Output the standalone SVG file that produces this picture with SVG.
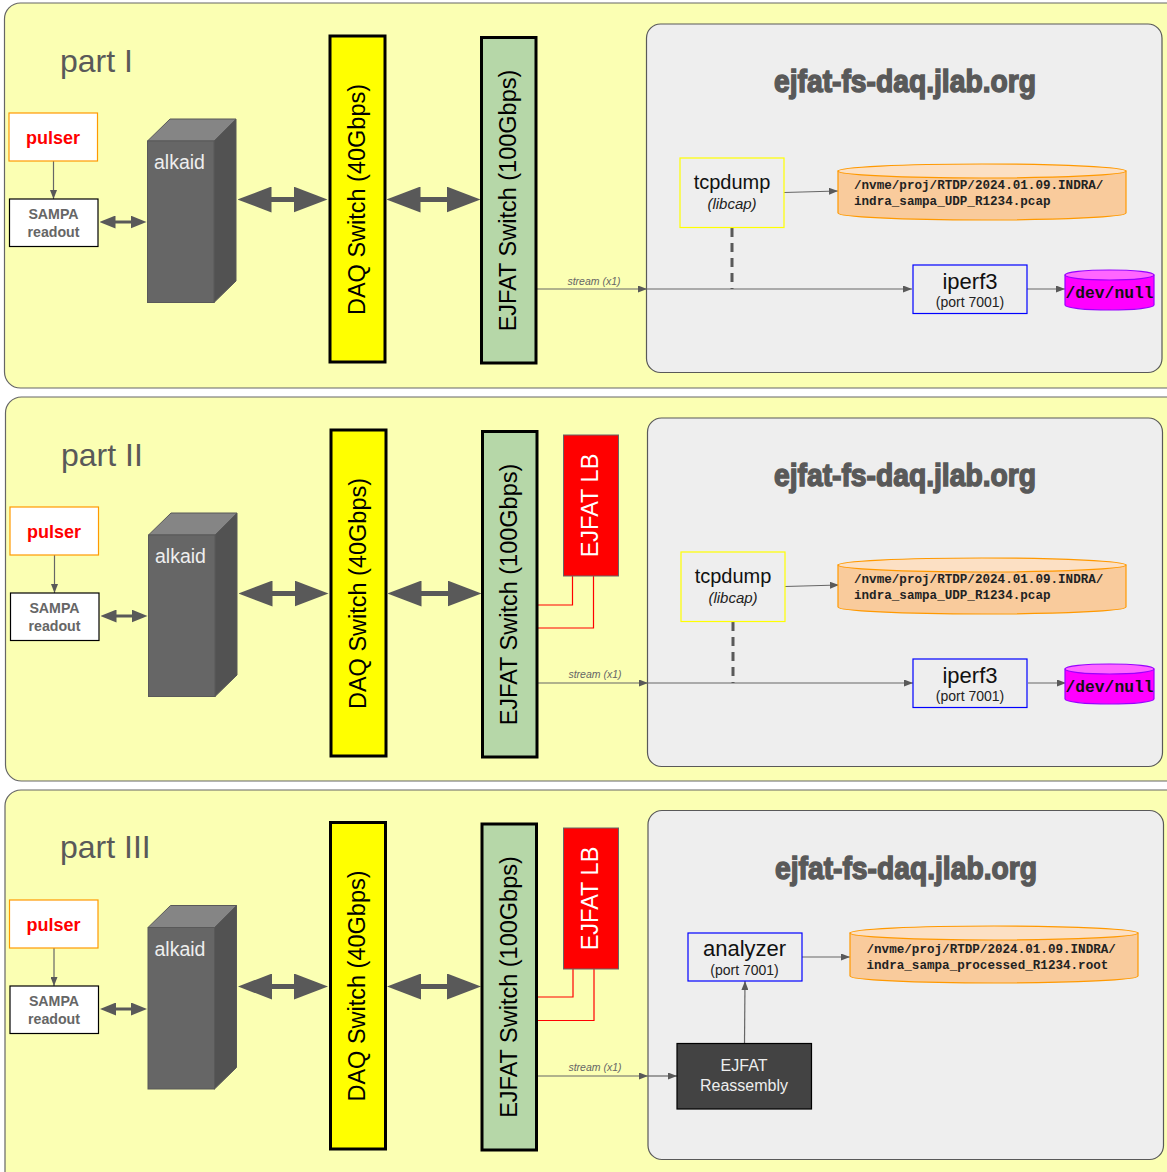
<svg xmlns="http://www.w3.org/2000/svg" width="1167" height="1172" viewBox="0 0 1167 1172">
<style>
text{font-family:"Liberation Sans",Arial,sans-serif;text-anchor:middle}
.panel{fill:#fbffb3;stroke:#666;stroke-width:1.2}
.host{fill:#eee;stroke:#595959;stroke-width:1.2}
.pulser{fill:#fff;stroke:#f90;stroke-width:1.2}
.box{fill:#fff;stroke:#000;stroke-width:1.2}
.sw{stroke:#000;stroke-width:3}
.part{font-size:32px;fill:#595959;text-anchor:start}
.title{font-size:32px;font-weight:bold;fill:#595959;stroke:#595959;stroke-width:1.5}
.pt{font-size:18px;font-weight:bold;fill:#f00}
.sm{font-size:14.200px;font-weight:bold;fill:#666}
.alk{font-size:19.500px;fill:#eee}
.v{font-size:23.500px;fill:#000}
.s{font-size:10.500px;font-style:italic;fill:#666}
.mono{font-family:"Liberation Mono","Courier New",monospace;font-weight:bold;font-size:12.600px;fill:#222;text-anchor:start}
.nul{font-family:"Liberation Mono","Courier New",monospace;font-weight:bold;font-size:16.300px;fill:#111}
.c{fill:none;stroke:#666;stroke-width:1.2}
.a{marker-end:url(#h)}
.d1{fill:none;stroke:#595959;stroke-width:3;marker-start:url(#m);marker-end:url(#m)}
.d2{fill:none;stroke:#595959;stroke-width:5;marker-start:url(#b);marker-end:url(#b)}
.dash{fill:none;stroke:#595959;stroke-width:3;stroke-dasharray:9 6}
.red{fill:none;stroke:#f00;stroke-width:1.2}
.cyl{fill:#f9cb9c;stroke:#f90;stroke-width:1.2}
.cylt{fill:#fce0c4;stroke:#f90;stroke-width:1.2}
.cym{fill:#f0f;stroke:#90f;stroke-width:1.2}
.cymt{fill:#f6f;stroke:#90f;stroke-width:1.2}
</style>
<defs>
<marker id="h" markerUnits="userSpaceOnUse" markerWidth="9" markerHeight="7" refX="9" refY="3.5" orient="auto"><path d="M0 0L9 3.5L0 7Z" fill="#595959"/></marker>
<marker id="m" markerUnits="userSpaceOnUse" markerWidth="16" markerHeight="13" refX="0.500" refY="6.5" orient="auto-start-reverse"><path d="M0 0L16 6.5L0 13Z" fill="#595959"/></marker>
<marker id="b" markerUnits="userSpaceOnUse" markerWidth="34" markerHeight="26" refX="0.500" refY="13" orient="auto-start-reverse"><path d="M0 0L34 13L0 26Z" fill="#595959"/></marker>
</defs>

<g id="panels">
<rect id="panel-1" class="panel" x="4.5" y="3" width="1200" height="385" rx="16"/>
<rect id="panel-2" class="panel" x="5.5" y="397" width="1200" height="384" rx="16"/>
<rect id="panel-3" class="panel" x="5" y="790" width="1200" height="400" rx="16"/>
<rect id="host-1" class="host" x="646.5" y="24" width="515.5" height="348.5" rx="14"/>
<rect id="host-2" class="host" x="647.5" y="418" width="515" height="348.5" rx="14"/>
<rect id="host-3" class="host" x="648" y="810.5" width="515.5" height="349" rx="14"/>
</g>

<g id="connectors">
<g id="conn-1">
<path class="c a" d="M53.5 161V199"/>
<path class="d1" d="M115 222H131"/>
<path class="d2" d="M271 199.500H294"/>
<path class="d2" d="M420 199.500H447"/>
<path class="c a" d="M537 289H647"/>
<path class="c a" d="M647 289H912"/>
<path class="dash" d="M732 228V289"/>
<path class="c a" d="M784 192.500L838 191"/>
<path class="c a" d="M1027 289H1065"/>
</g>
<g id="conn-2" transform="translate(1 394)">
<path class="c a" d="M53.5 161V199"/>
<path class="d1" d="M115 222H131"/>
<path class="d2" d="M271 199.500H294"/>
<path class="d2" d="M420 199.500H447"/>
<path class="c a" d="M537 289H647"/>
<path class="c a" d="M647 289H912"/>
<path class="dash" d="M732 228V289"/>
<path class="c a" d="M784 192.500L838 191"/>
<path class="c a" d="M1027 289H1065"/>
<path class="red" d="M536 211H571.500V182"/>
<path class="red" d="M536 234H592.500V182"/>
</g>
<g id="conn-3">
<path class="c a" d="M54 948V986"/>
<path class="d1" d="M115.500 1009H131.500"/>
<path class="d2" d="M271.500 986.500H294.500"/>
<path class="d2" d="M420.500 986.500H447.500"/>
<path class="red" d="M537 997H573V969"/>
<path class="red" d="M537 1020.500H594V969"/>
<path class="c a" d="M538 1076H648"/>
<path class="c a" d="M648 1076H677"/>
<path class="c a" d="M744.500 1043L745 981"/>
<path class="c a" d="M802 957H850"/>
</g>
</g>

<g id="label-part-1"><text class="part" x="60" y="72">part I</text></g>
<g id="label-part-2"><text class="part" x="61" y="466">part II</text></g>
<g id="label-part-3"><text class="part" x="60" y="858">part III</text></g>

<g id="pulser-1"><rect class="pulser" x="9" y="113" width="88.500" height="48"/><text class="pt" x="53" y="144">pulser</text></g>
<g id="sampa-1"><rect class="box" x="9.500" y="199" width="88.500" height="47.500"/><text class="sm" x="53.500" y="219">SAMPA</text><text class="sm" x="53.500" y="237">readout</text></g>
<g id="alkaid-1"><path d="M147.500 141L170 119H236L214 141Z" fill="#858585" stroke="#595959"/><path d="M214 141L236 119V281L214 302.500Z" fill="#525252" stroke="#595959"/><rect x="147.500" y="141" width="66.500" height="161.500" fill="#666" stroke="#595959"/><text class="alk" x="179.500" y="169">alkaid</text></g>
<g id="daq-1"><rect class="sw" x="330" y="36" width="55" height="326" fill="#ff0"/><text class="v" transform="translate(364.500 199.500) rotate(-90)">DAQ Switch (40Gbps)</text></g>
<g id="ejfat-sw-1"><rect class="sw" x="481.500" y="37.500" width="54.500" height="325.500" fill="#b6d7a8"/><text class="v" transform="translate(516 200.500) rotate(-90)">EJFAT Switch (100Gbps)</text></g>
<g id="stream-1"><text class="s" x="594" y="285">stream (x1)</text></g>
<g id="title-1"><text class="title" x="905" y="91.500" textLength="262" lengthAdjust="spacingAndGlyphs">ejfat-fs-daq.jlab.org</text></g>
<g id="tcpdump-1"><rect x="680" y="158" width="104" height="69.500" fill="#eee" stroke="#ff0" stroke-width="1.200"/><text x="732" y="189" font-size="20" fill="#111">tcpdump</text><text x="732" y="209" font-size="15" font-style="italic" fill="#222">(libcap)</text></g>
<g id="pcap-1"><path class="cyl" d="M838 171V213A144 7 0 0 0 1126 213V171Z"/><ellipse class="cylt" cx="982" cy="171" rx="144" ry="7"/><text class="mono" x="854" y="189">/nvme/proj/RTDP/2024.01.09.INDRA/</text><text class="mono" x="854" y="204.500">indra_sampa_UDP_R1234.pcap</text></g>
<g id="iperf-1"><rect x="913" y="265" width="114" height="48.500" fill="#eee" stroke="#00f" stroke-width="1.200"/><text x="970" y="289" font-size="22" fill="#111">iperf3</text><text x="970" y="307" font-size="14" fill="#222">(port 7001)</text></g>
<g id="null-1"><path class="cym" d="M1065 275V305A44.500 5 0 0 0 1154 305V275Z"/><ellipse class="cymt" cx="1109.500" cy="275" rx="44.500" ry="5"/><text class="nul" x="1109.500" y="297.500">/dev/null</text></g>

<g transform="translate(1 394)">
<g id="pulser-2"><rect class="pulser" x="9" y="113" width="88.500" height="48"/><text class="pt" x="53" y="144">pulser</text></g>
<g id="sampa-2"><rect class="box" x="9.500" y="199" width="88.500" height="47.500"/><text class="sm" x="53.500" y="218.500">SAMPA</text><text class="sm" x="53.500" y="236.500">readout</text></g>
<g id="alkaid-2"><path d="M147.500 141L170 119H236L214 141Z" fill="#858585" stroke="#595959"/><path d="M214 141L236 119V281L214 302.500Z" fill="#525252" stroke="#595959"/><rect x="147.500" y="141" width="66.500" height="161.500" fill="#666" stroke="#595959"/><text class="alk" x="179.500" y="169">alkaid</text></g>
<g id="daq-2"><rect class="sw" x="330" y="36" width="55" height="326" fill="#ff0"/><text class="v" transform="translate(364.500 199.500) rotate(-90)">DAQ Switch (40Gbps)</text></g>
<g id="ejfat-sw-2"><rect class="sw" x="481.500" y="37.500" width="54.500" height="325.500" fill="#b6d7a8"/><text class="v" transform="translate(516 200.500) rotate(-90)">EJFAT Switch (100Gbps)</text></g>
<g id="lb-2"><rect x="562.500" y="41" width="55" height="141" fill="#f00" stroke="#666"/><text class="v" style="fill:#fff" transform="translate(597 111.500) rotate(-90)">EJFAT LB</text></g>
<g id="stream-2"><text class="s" x="594" y="284">stream (x1)</text></g>
</g>
<g id="title-2"><text class="title" x="905" y="485.500" textLength="262" lengthAdjust="spacingAndGlyphs">ejfat-fs-daq.jlab.org</text></g>
<g id="tcpdump-2" transform="translate(1 394)"><rect x="680" y="158" width="104" height="69.500" fill="#eee" stroke="#ff0" stroke-width="1.200"/><text x="732" y="189" font-size="20" fill="#111">tcpdump</text><text x="732" y="209" font-size="15" font-style="italic" fill="#222">(libcap)</text></g>
<g id="pcap-2" transform="translate(0 394)"><path class="cyl" d="M838 171V213A144 7 0 0 0 1126 213V171Z"/><ellipse class="cylt" cx="982" cy="171" rx="144" ry="7"/><text class="mono" x="854" y="189">/nvme/proj/RTDP/2024.01.09.INDRA/</text><text class="mono" x="854" y="204.500">indra_sampa_UDP_R1234.pcap</text></g>
<g id="iperf-2" transform="translate(0 394)"><rect x="913" y="265" width="114" height="48.500" fill="#eee" stroke="#00f" stroke-width="1.200"/><text x="970" y="289" font-size="22" fill="#111">iperf3</text><text x="970" y="307" font-size="14" fill="#222">(port 7001)</text></g>
<g id="null-2" transform="translate(0 394)"><path class="cym" d="M1065 275V305A44.500 5 0 0 0 1154 305V275Z"/><ellipse class="cymt" cx="1109.500" cy="275" rx="44.500" ry="5"/><text class="nul" x="1109.500" y="297.500">/dev/null</text></g>

<g transform="translate(0.500 786.500)">
<g id="pulser-3"><rect class="pulser" x="9" y="113.500" width="88.500" height="48"/><text class="pt" x="53" y="144">pulser</text></g>
<g id="sampa-3"><rect class="box" x="9.500" y="199.500" width="88.500" height="47.500"/><text class="sm" x="53.500" y="219">SAMPA</text><text class="sm" x="53.500" y="237">readout</text></g>
<g id="alkaid-3"><path d="M147.500 141L170 119H236L214 141Z" fill="#858585" stroke="#595959"/><path d="M214 141L236 119V281L214 302.500Z" fill="#525252" stroke="#595959"/><rect x="147.500" y="141" width="66.500" height="161.500" fill="#666" stroke="#595959"/><text class="alk" x="179.500" y="169">alkaid</text></g>
<g id="daq-3"><rect class="sw" x="330" y="36" width="55" height="326.500" fill="#ff0"/><text class="v" transform="translate(364.500 199.500) rotate(-90)">DAQ Switch (40Gbps)</text></g>
<g id="ejfat-sw-3"><rect class="sw" x="481.500" y="37.500" width="54.500" height="326" fill="#b6d7a8"/><text class="v" transform="translate(516 200.500) rotate(-90)">EJFAT Switch (100Gbps)</text></g>
<g id="lb-3"><rect x="563" y="41.500" width="55" height="141" fill="#f00" stroke="#666"/><text class="v" style="fill:#fff" transform="translate(597.500 112) rotate(-90)">EJFAT LB</text></g>
<g id="stream-3"><text class="s" x="594.500" y="284">stream (x1)</text></g>
</g>
<g id="title-3"><text class="title" x="906" y="878.500" textLength="262" lengthAdjust="spacingAndGlyphs">ejfat-fs-daq.jlab.org</text></g>
<g id="analyzer"><rect x="688" y="933" width="114" height="48" fill="#eee" stroke="#00f" stroke-width="1.200"/><text x="744.500" y="956" font-size="22" fill="#111">analyzer</text><text x="744.500" y="975" font-size="14" fill="#222">(port 7001)</text></g>
<g id="root-file"><path class="cyl" d="M850 933V976A144 7 0 0 0 1138 976V933Z"/><ellipse class="cylt" cx="994" cy="933" rx="144" ry="7"/><text class="mono" x="866.500" y="953">/nvme/proj/RTDP/2024.01.09.INDRA/</text><text class="mono" x="866.500" y="969">indra_sampa_processed_R1234.root</text></g>
<g id="reassembly"><rect x="677" y="1043.500" width="134.500" height="65.500" fill="#434343" stroke="#000" stroke-width="1.200"/><text x="744" y="1071" font-size="16" fill="#eee">EJFAT</text><text x="744" y="1091" font-size="16" fill="#eee">Reassembly</text></g>
</svg>
